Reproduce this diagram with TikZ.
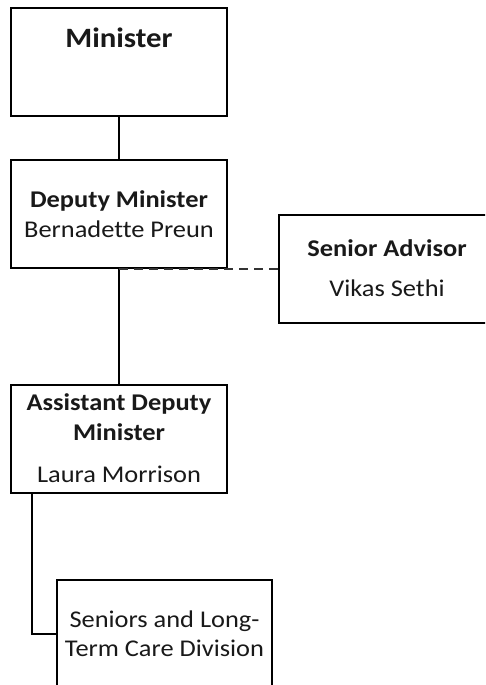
\documentclass[tikz,border=0pt]{standalone}
\usepackage{fontspec}
\setmainfont{Carlito}[FakeStretch=1.1, Ligatures={NoCommon}]
\definecolor{txtc}{RGB}{25,25,25}
\tikzset{
  box/.style={draw=black, line width=2.1pt, fill=white, rectangle, inner sep=0pt, minimum width=216pt, minimum height=108pt},
  link/.style={draw=black, line width=2.1pt},
  dlink/.style={draw=black!80, line width=2.1pt, dash pattern=on 9pt off 6pt},
  lbl/.style={anchor=base, inner sep=0pt, text=txtc, font=\fontsize{24}{29}\selectfont},
  blbl/.style={lbl, font=\fontsize{24}{29}\selectfont\bfseries},
  big/.style={lbl, font=\fontsize{28}{34}\selectfont\bfseries}
}
\begin{document}
\begin{tikzpicture}[x=1pt,y=-1pt]
\useasboundingbox (0,0) rectangle (485,685);
\clip (0,0) rectangle (485,685);
\fill[white] (0,0) rectangle (485,685);
\node[box] (min) at (119,62) {};
\node[box] (dm) at (119,214) {};
\node[box] (sa) at (387,269) {};
\node[box] (adm) at (119,439) {};
\node[box, minimum width=215pt] (sltc) at (164.5,634) {};
\coordinate (dmfoot) at (dm.south |- sa.west);
\coordinate (admfoot) at ([xshift=22pt]adm.south west);
\draw[link] (min.south) -- (dm.north);
\draw[link] (dm.south) -- (adm.north);
\draw[dlink] (dmfoot) -- (sa.west);
\draw[link] (admfoot) |- (sltc.west);
\node[big] (tmin) at (119,48) {Minister};
\node[blbl] (tdm1) at (119,207) {Deputy Minister};
\node[lbl] (tdm2) at (119,237) {Bernadette Preun};
\node[blbl] (tsa1) at (387,256) {Senior Advisor};
\node[lbl] (tsa2) at (387,296) {Vikas Sethi};
\node[blbl] (tadm1) at (119,410) {Assistant Deputy};
\node[blbl] (tadm2) at (119,440) {Minister};
\node[lbl] (tadm3) at (119,482) {Laura Morrison};
\node[lbl] (ts1) at (164.5,627) {Seniors and Long-};
\node[lbl] (ts2) at (164.5,656) {Term Care Division};
\end{tikzpicture}
\end{document}
